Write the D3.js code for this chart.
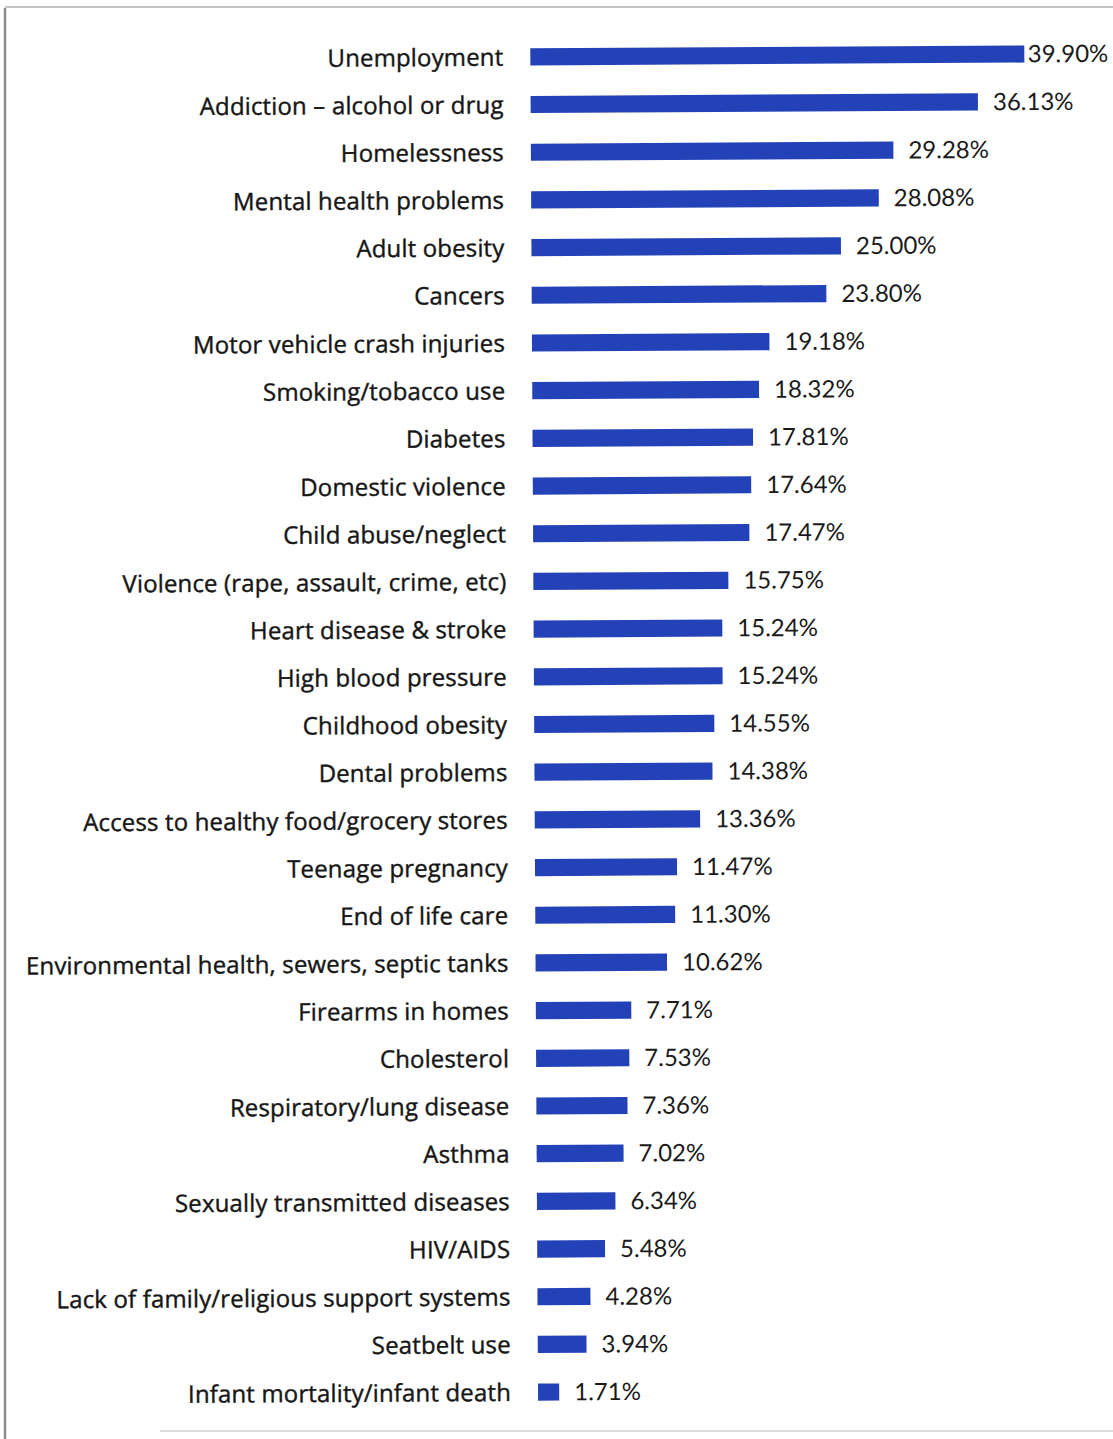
<!DOCTYPE html>
<html><head><meta charset="utf-8">
<script src="https://cdn.jsdelivr.net/npm/d3@7"></script>
<style>body{margin:0;background:#fff;} svg{display:block;}</style>
</head><body>
<script>
const categories = ["Unemployment","Addiction \u2013 alcohol or drug","Homelessness","Mental health problems","Adult obesity","Cancers","Motor vehicle crash injuries","Smoking/tobacco use","Diabetes","Domestic violence","Child abuse/neglect","Violence (rape, assault, crime, etc)","Heart disease & stroke","High blood pressure","Childhood obesity","Dental problems","Access to healthy food/grocery stores","Teenage pregnancy","End of life care","Environmental health, sewers, septic tanks","Firearms in homes","Cholesterol","Respiratory/lung disease","Asthma","Sexually transmitted diseases","HIV/AIDS","Lack of family/religious support systems","Seatbelt use","Infant mortality/infant death"];
const values = [39.90,36.13,29.28,28.08,25.00,23.80,19.18,18.32,17.81,17.64,17.47,15.75,15.24,15.24,14.55,14.38,13.36,11.47,11.30,10.62,7.71,7.53,7.36,7.02,6.34,5.48,4.28,3.94,1.71];
const valueLabels = ["39.90%","36.13%","29.28%","28.08%","25.00%","23.80%","19.18%","18.32%","17.81%","17.64%","17.47%","15.75%","15.24%","15.24%","14.55%","14.38%","13.36%","11.47%","11.30%","10.62%","7.71%","7.53%","7.36%","7.02%","6.34%","5.48%","4.28%","3.94%","1.71%"];

const W = 1113, H = 1439;
const svg = d3.select("body").append("svg").attr("width", W).attr("height", H);

// frame
svg.append("line").attr("x1",5).attr("y1",8).attr("x2",5).attr("y2",1439).attr("stroke","#8c8c8c").attr("stroke-width",2.5);
svg.append("line").attr("x1",5).attr("y1",7).attr("x2",1113).attr("y2",7).attr("stroke","#c4c4c4").attr("stroke-width",2);
svg.append("line").attr("x1",160).attr("y1",1431).attr("x2",1113).attr("y2",1431).attr("stroke","#cfcfcf").attr("stroke-width",1.5);

const left = 530;
const x = d3.scaleLinear().domain([0, 39.9]).range([0, 494]);
const y = d3.scaleBand().domain(categories).range([33, 1416]).paddingInner(0.64).paddingOuter(0.32);

const g = svg.append("g").attr("transform", `translate(${left},0) rotate(-0.33)`);

g.selectAll("rect.bar").data(values).join("rect")
  .attr("class","bar")
  .attr("x", 0)
  .attr("y", (d,i) => y(categories[i]))
  .attr("width", d => x(d))
  .attr("height", y.bandwidth())
  .attr("fill", "#2442b8");

g.selectAll("text.cat").data(categories).join("text")
  .attr("class","cat")
  .attr("x", -27)
  .attr("y", d => y(d) + y.bandwidth()/2)
  .attr("dy", "0.36em")
  .attr("text-anchor","end")
  .attr("font-family", "'Open Sans', Lato, sans-serif")
  .attr("font-size", 24)
  .attr("letter-spacing", 0.15)
  .attr("fill","#161616")
  .attr("stroke","#161616")
  .attr("stroke-width",0.4)
  .text(d => d);

g.selectAll("text.val").data(values).join("text")
  .attr("class","val")
  .attr("y", (d,i) => y(categories[i]) + y.bandwidth()/2)
  .attr("dy", "0.35em")
  .attr("font-family", "Lato, 'Open Sans', sans-serif")
  .attr("font-size", 24)
  .attr("fill","#1a1a1a")
  .text((d,i) => valueLabels[i])
  .attr("x", function(d){
    const w = this.getComputedTextLength();
    return Math.min(x(d) + 15, W - left - 5 - w);
  });
</script>
</body></html>
